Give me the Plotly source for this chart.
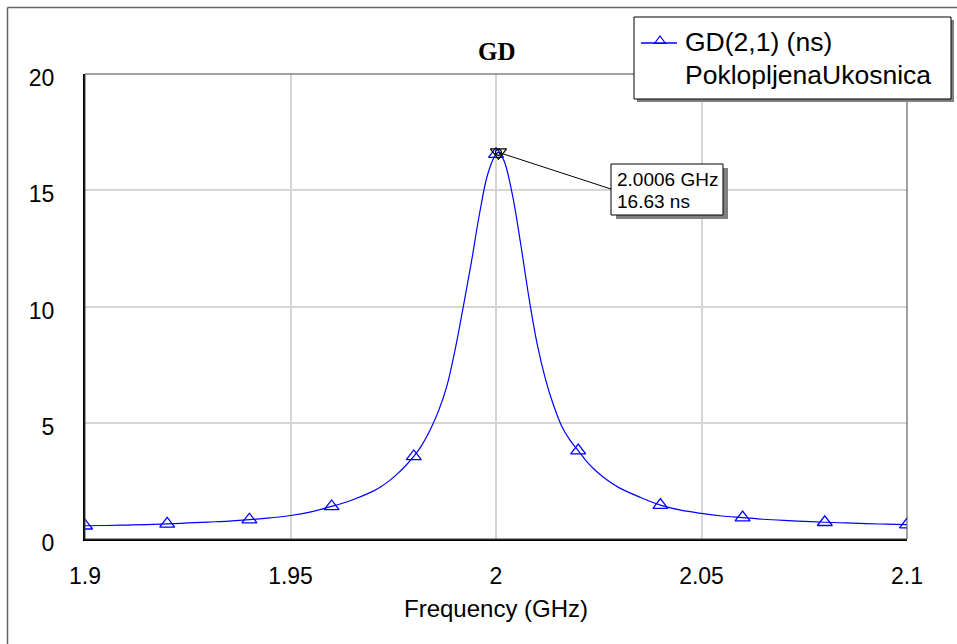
import plotly.graph_objects as go

# ---- data ----
freq_ghz = [1.900, 1.905, 1.910, 1.915, 1.920, 1.925, 1.930, 1.935, 1.940, 1.945,
            1.950, 1.955, 1.960, 1.965, 1.970, 1.972, 1.974, 1.976, 1.978, 1.980,
            1.982, 1.984, 1.986, 1.988, 1.990, 1.992, 1.994, 1.996, 1.998, 2.000,
            2.0006, 2.002, 2.004, 2.006, 2.008, 2.010, 2.012, 2.014, 2.016, 2.018,
            2.020, 2.022, 2.024, 2.026, 2.028, 2.030, 2.035, 2.040, 2.045, 2.050,
            2.055, 2.060, 2.065, 2.070, 2.075, 2.080, 2.085, 2.090, 2.095, 2.100]
gd_ns = [0.57, 0.58, 0.60, 0.62, 0.65, 0.69, 0.73, 0.77, 0.83, 0.91,
         1.01, 1.17, 1.40, 1.68, 2.05, 2.25, 2.50, 2.80, 3.15, 3.55,
         4.05, 4.70, 5.50, 6.55, 8.10, 9.95, 11.9, 14.0, 15.7, 16.55,
         16.63, 16.25, 14.8, 12.7, 10.4, 8.40, 6.90, 5.75, 4.85, 4.25,
         3.80, 3.35, 2.98, 2.68, 2.42, 2.20, 1.80, 1.46, 1.24, 1.10,
         0.99, 0.92, 0.85, 0.80, 0.76, 0.72, 0.69, 0.66, 0.64, 0.62]

marker_freq = [1.90, 1.92, 1.94, 1.96, 1.98, 2.00, 2.02, 2.04, 2.06, 2.08, 2.10]
marker_gd = [0.57, 0.65, 0.83, 1.40, 3.55, 16.55, 3.80, 1.46, 0.92, 0.72, 0.62]

peak_freq = [2.0006]
peak_gd = [16.63]

x_tickvals = [1.9, 1.95, 2.0, 2.05, 2.1]
x_ticktext = ["1.9", "1.95", "2", "2.05", "2.1"]
y_tickvals = [0, 5, 10, 15, 20]
y_ticktext = ["0", "5", "10", "15", "20"]

title_text = "GD"
legend_lines = ["GD(2,1) (ns)", "PoklopljenaUkosnica"]
xaxis_title = "Frequency (GHz)"
marker_label = ["2.0006 GHz", "16.63 ns"]

# ---- layout geometry (pixels) ----
W, H = 957, 644
PL, PR, PT, PB = 85, 907, 74, 539


def X(px):
    return (px - PL) / (PR - PL)


def Y(py):
    return (PB - py) / (PB - PT)


BLUE = "#0000ff"
FONT = "Liberation Sans, Arial, sans-serif"

fig = go.Figure()
fig.add_trace(go.Scatter(x=freq_ghz, y=gd_ns, mode="lines",
                         line=dict(color=BLUE, width=1.2, shape="spline", smoothing=1.0),
                         hoverinfo="skip"))
fig.add_trace(go.Scatter(x=marker_freq, y=marker_gd, mode="markers",
                         marker=dict(symbol="triangle-up-open", size=13, color=BLUE,
                                     line=dict(color=BLUE, width=1.3))))
fig.add_trace(go.Scatter(x=peak_freq, y=peak_gd, mode="markers",
                         marker=dict(symbol="triangle-down-open", size=14, color="black",
                                     line=dict(color="black", width=1.2))))
fig.add_trace(go.Scatter(x=peak_freq, y=peak_gd, mode="markers",
                         marker=dict(symbol="circle-open", size=6, color="black",
                                     line=dict(color="black", width=1.2))))

shapes = []
# outer frame (left & top visible)
shapes.append(dict(type="line", xref="paper", yref="paper", x0=X(7.5), y0=Y(7.5), x1=X(7.5), y1=Y(700),
                   line=dict(color="#666666", width=1.5)))
shapes.append(dict(type="line", xref="paper", yref="paper", x0=X(7.5), y0=Y(7.5), x1=X(1000), y1=Y(7.5),
                   line=dict(color="#666666", width=1.5)))
# plot frame top/right
shapes.append(dict(type="rect", xref="paper", yref="paper", x0=0, y0=0, x1=1, y1=1,
                   line=dict(color="#444444", width=1), layer="above"))
# marker leader line
shapes.append(dict(type="line", xref="x", yref="y", x0=peak_freq[0], y0=peak_gd[0],
                   x1=1.9 + (611 - PL) / (PR - PL) * 0.2, y1=(PB - 189) / (PB - PT) * 20,
                   line=dict(color="black", width=1), layer="above"))
# marker box + shadow
shapes.append(dict(type="rect", xref="paper", yref="paper", x0=X(616), y0=Y(219), x1=X(728), y1=Y(168),
                   fillcolor="#808080", line=dict(width=0), layer="above"))
shapes.append(dict(type="rect", xref="paper", yref="paper", x0=X(611), y0=Y(215), x1=X(723), y1=Y(164),
                   fillcolor="white", line=dict(color="black", width=1), layer="above"))
# legend box + shadow
shapes.append(dict(type="rect", xref="paper", yref="paper", x0=X(637), y0=Y(102), x1=X(954), y1=Y(20),
                   fillcolor="#808080", line=dict(width=0), layer="above"))
shapes.append(dict(type="rect", xref="paper", yref="paper", x0=X(634), y0=Y(99), x1=X(951), y1=Y(17),
                   fillcolor="white", line=dict(color="black", width=1), layer="above"))
# legend sample line + triangle
shapes.append(dict(type="line", xref="paper", yref="paper", x0=X(641), y0=Y(43), x1=X(677), y1=Y(43),
                   line=dict(color=BLUE, width=1.3), layer="above"))
shapes.append(dict(type="path", xref="paper", yref="paper",
                   path=f"M {X(654.5)},{Y(43.5)} L {X(665.5)},{Y(43.5)} L {X(660)},{Y(36)} Z",
                   line=dict(color=BLUE, width=1.2), fillcolor="rgba(0,0,0,0)", layer="above"))

annotations = [
    dict(text=f"<b>{title_text}</b>", xref="paper", yref="paper", x=X(497), y=Y(52),
         xanchor="center", yanchor="middle", showarrow=False,
         font=dict(family="Liberation Serif, Times New Roman, serif", size=25, color="black")),
    dict(text=legend_lines[0], xref="paper", yref="paper", x=X(683), y=Y(42),
         xanchor="left", yanchor="middle", showarrow=False,
         font=dict(family=FONT, size=26.5, color="black")),
    dict(text=legend_lines[1], xref="paper", yref="paper", x=X(683), y=Y(75),
         xanchor="left", yanchor="middle", showarrow=False,
         font=dict(family=FONT, size=26.5, color="black")),
    dict(text=marker_label[0], xref="paper", yref="paper", x=X(615), y=Y(180),
         xanchor="left", yanchor="middle", showarrow=False,
         font=dict(family=FONT, size=19, color="black")),
    dict(text=marker_label[1], xref="paper", yref="paper", x=X(615), y=Y(201),
         xanchor="left", yanchor="middle", showarrow=False,
         font=dict(family=FONT, size=19, color="black")),
    dict(text=xaxis_title, xref="paper", yref="paper", x=X(496), y=Y(608),
         xanchor="center", yanchor="middle", showarrow=False,
         font=dict(family=FONT, size=24, color="black")),
]

fig.update_layout(
    width=W, height=H,
    margin=dict(l=PL, r=W - PR, t=PT, b=H - PB),
    paper_bgcolor="white", plot_bgcolor="white",
    showlegend=False,
    shapes=shapes, annotations=annotations,
    font=dict(family=FONT, size=23, color="black"),
)
fig.update_xaxes(range=[1.9, 2.1], tickvals=x_tickvals, ticktext=x_ticktext,
                 showgrid=True, gridcolor="#d6d6d6", gridwidth=2, zeroline=False,
                 showline=True, linecolor="black", linewidth=2, ticks="",
                 ticklabelstandoff=15, automargin=False,
                 tickfont=dict(family=FONT, size=23, color="black"))
fig.update_yaxes(range=[0, 20], tickvals=y_tickvals, ticktext=y_ticktext,
                 showgrid=True, gridcolor="#d6d6d6", gridwidth=2, zeroline=False,
                 showline=True, linecolor="black", linewidth=2, ticks="",
                 ticklabelstandoff=24, ticklabelshift=4, automargin=False,
                 tickfont=dict(family=FONT, size=23, color="black"))

fig.write_html("out.html", config={"displayModeBar": False},
               post_script="document.body.style.margin='0';")
